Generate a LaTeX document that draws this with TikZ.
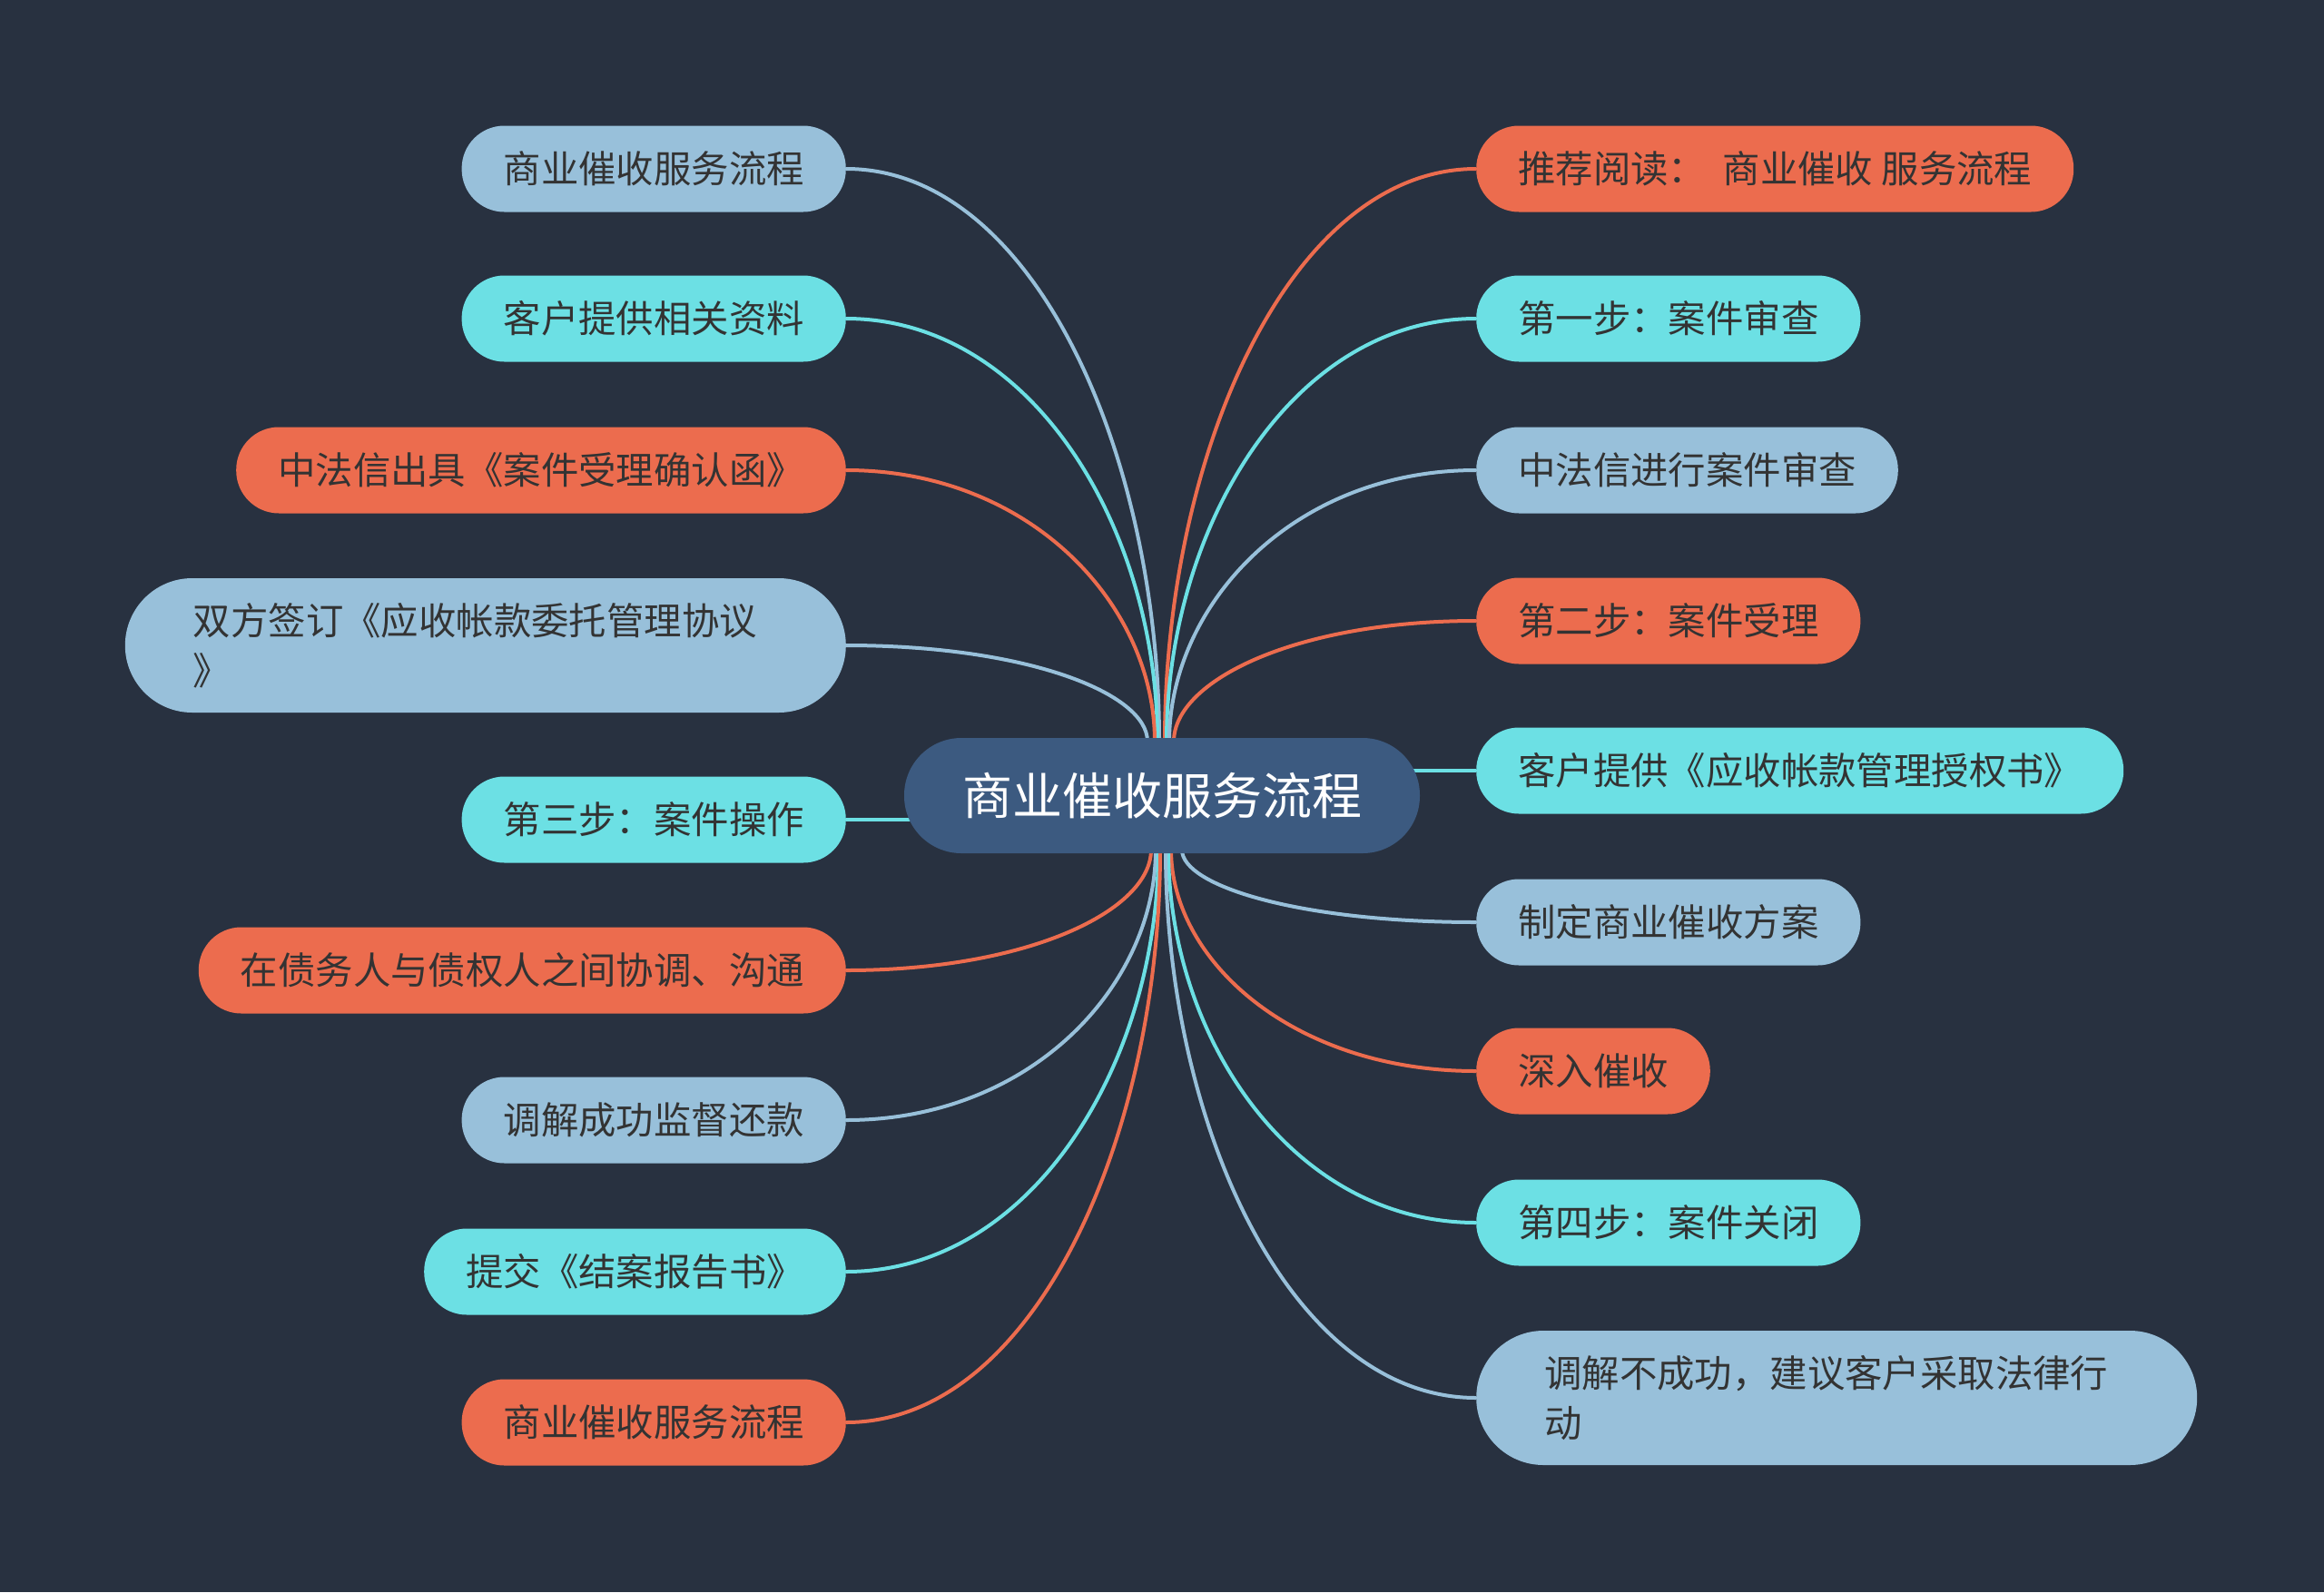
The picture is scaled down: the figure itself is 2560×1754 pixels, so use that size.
\documentclass[tikz,border=0pt]{standalone}
\usepackage{fontspec}
\setmainfont{Noto Sans CJK SC}
\usetikzlibrary{calc}
\definecolor{bgc}{HTML}{283140}
\definecolor{ctrc}{HTML}{3C5A80}
\definecolor{bluec}{HTML}{98C0DA}
\definecolor{cyanc}{HTML}{6CE0E4}
\definecolor{orangec}{HTML}{EC6C4E}
\definecolor{txtc}{HTML}{333333}
\pgfdeclarelayer{bg}
\pgfsetlayers{bg,main}
% #1 colour, #2 child, #3 child anchor, #4 xshift, #5 centre anchor, #6 yshift
\newcommand{\mmconn}[6]{%
  \coordinate (E) at ([xshift=#4,yshift=#6]ctr.#5);
  \draw[conn,#1] (#2.#3) .. controls ($(#2.#3)!0.6!(#2.#3 -| E)$) and ($(E)!0.5!(E |- #2.#3)$) .. (E);
}
\tikzset{
  leaf/.style={rounded corners=47pt, minimum height=95pt, inner xsep=46pt, inner ysep=0pt,
    font=\fontsize{41.4pt}{55pt}\selectfont, text=txtc},
  leaftwo/.style={rounded corners=74pt, minimum height=148pt, inner xsep=75pt, inner ysep=0pt,
    text width=644pt, align=left, font=\fontsize{41.4pt}{55pt}\selectfont, text=txtc},
  fillB/.style={fill=bluec},
  fillC/.style={fill=cyanc},
  fillO/.style={fill=orangec},
  conn/.style={line width=4pt},
}
\begin{document}
\begin{tikzpicture}[x=1pt,y=-1pt]
\useasboundingbox (0,0) rectangle (2560,1754);
\begin{pgfonlayer}{bg}
  \fill[bgc] (0,0) rectangle (2560,1754);
\end{pgfonlayer}

% centre
\node[fill=ctrc, rounded corners=63pt, minimum height=127pt, minimum width=568pt, inner sep=0pt,
  font=\fontsize{55pt}{66pt}\selectfont, text=white] (ctr) at (1280,876.5) {商业催收服务流程};

% left
\node[leaf,fillB,anchor=east] (L1) at (932,186) {商业催收服务流程};
\node[leaf,fillC,anchor=east] (L2) at (932,351) {客户提供相关资料};
\node[leaf,fillO,anchor=east] (L3) at (932,518) {中法信出具《案件受理确认函》};
\node[leaftwo,fillB,anchor=east] (L4) at (932,711) {双方签订《应收帐款委托管理协议\\》};
\node[leaf,fillC,anchor=east] (L5) at (932,903) {第三步：案件操作};
\node[leaf,fillO,anchor=east] (L6) at (932,1069) {在债务人与债权人之间协调、沟通};
\node[leaf,fillB,anchor=east] (L7) at (932,1234) {调解成功监督还款};
\node[leaf,fillC,anchor=east] (L8) at (932,1401) {提交《结案报告书》};
\node[leaf,fillO,anchor=east] (L9) at (932,1567) {商业催收服务流程};

% right
\node[leaf,fillO,anchor=west] (R1) at (1626,186) {推荐阅读：\ \ 商业催收 服务流程};
\node[leaf,fillC,anchor=west] (R2) at (1626,351) {第一步：案件审查};
\node[leaf,fillB,anchor=west] (R3) at (1626,518) {中法信进行案件审查};
\node[leaf,fillO,anchor=west] (R4) at (1626,684) {第二步：案件受理};
\node[leaf,fillC,anchor=west] (R5) at (1626,849) {客户提供《应收帐款管理授权书》};
\node[leaf,fillB,anchor=west] (R6) at (1626,1016) {制定商业催收方案};
\node[leaf,fillO,anchor=west] (R7) at (1626,1180) {深入催收};
\node[leaf,fillC,anchor=west] (R8) at (1626,1347) {第四步：案件关闭};
\node[leaftwo,fillB,anchor=west] (R9) at (1626,1540) {调解不成功，建议客户采取法律行\\动};

\begin{pgfonlayer}{bg}
  \mmconn{bluec}{L1}{east}{-3pt}{north}{-4pt}
  \mmconn{cyanc}{L2}{east}{-5pt}{north}{-4pt}
  \mmconn{orangec}{L3}{east}{-8pt}{north}{-4pt}
  \mmconn{bluec}{L4}{east}{-16pt}{north}{-4pt}
  \draw[conn,cyanc] (L5.east) -- (L5.east -| ctr.center);
  \mmconn{orangec}{L6}{east}{-12pt}{south}{4pt}
  \mmconn{bluec}{L7}{east}{-7pt}{south}{4pt}
  \mmconn{cyanc}{L8}{east}{-4pt}{south}{4pt}
  \mmconn{orangec}{L9}{east}{-2pt}{south}{4pt}

  \mmconn{orangec}{R1}{west}{3pt}{north}{-4pt}
  \mmconn{cyanc}{R2}{west}{5pt}{north}{-4pt}
  \mmconn{bluec}{R3}{west}{8pt}{north}{-4pt}
  \mmconn{orangec}{R4}{west}{13pt}{north}{-4pt}
  \draw[conn,cyanc] (R5.west) -- (R5.west -| ctr.center);
  \mmconn{bluec}{R6}{west}{22pt}{south}{4pt}
  \mmconn{orangec}{R7}{west}{10pt}{south}{4pt}
  \mmconn{cyanc}{R8}{west}{7pt}{south}{4pt}
  \mmconn{bluec}{R9}{west}{4pt}{south}{4pt}
\end{pgfonlayer}
\end{tikzpicture}
\end{document}
